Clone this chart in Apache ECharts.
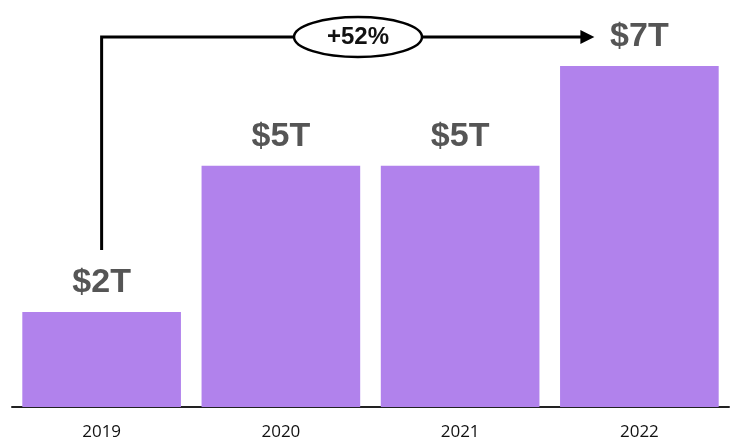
<!DOCTYPE html>
<html>
<head>
<meta charset="utf-8">
<script src="https://cdn.jsdelivr.net/npm/echarts@6/dist/echarts.min.js"></script>
<style>html,body{margin:0;padding:0;background:#fff}#chart{width:740px;height:445px}</style>
</head>
<body>
<div id="chart"></div>
<script>
var years = ['2019', '2020', '2021', '2022'];
var values = [1.95, 4.95, 4.95, 7.0];
var valueLabels = ['$2T', '$5T', '$5T', '$7T'];
var growthLabel = '+52%';

var chart = echarts.init(document.getElementById('chart'));

var option = {
    backgroundColor: '#fff',
    animation: false,
    grid: {left: 12, right: 11, top: 66, bottom: 38},
    xAxis: {
        type: 'category',
        data: years,
        axisTick: {show: false},
        axisLine: {lineStyle: {color: '#222', width: 2}},
        axisLabel: {color: '#111', fontSize: 17, margin: 17, fontFamily: 'Open Sans'}
    },
    yAxis: {type: 'value', min: 0, max: 7, show: false, splitLine: {show: false}},
    series: [{
        type: 'bar',
        data: values,
        barCategoryGap: '11.5%',
        itemStyle: {color: '#b182ec'},
        label: {
            show: true,
            position: 'top',
            distance: 12,
            color: '#555',
            fontSize: 34,
            fontWeight: 'bold',
            fontFamily: 'Liberation Sans',
            formatter: function (p) { return valueLabels[p.dataIndex]; }
        }
    }]
};
chart.setOption(option);

// connector arrow from first to last bar
var p0 = chart.convertToPixel({xAxisIndex: 0, yAxisIndex: 0}, [0, values[0]]);
var p3 = chart.convertToPixel({xAxisIndex: 0, yAxisIndex: 0}, [3, values[3]]);
var lineY = 37;
var startY = p0[1] - 62;
var endX = p3[0] - 45;
var midX = (p0[0] + endX) / 2 + 10;

chart.setOption({
    graphic: [
        {type: 'polyline', shape: {points: [[p0[0], startY], [p0[0], lineY], [endX - 12, lineY]]},
         style: {stroke: '#000', lineWidth: 3, fill: null}},
        {type: 'polygon', shape: {points: [[endX - 14, lineY - 7], [endX, lineY], [endX - 14, lineY + 7]]},
         style: {fill: '#000'}},
        {type: 'ellipse', shape: {cx: midX, cy: lineY, rx: 64, ry: 20},
         style: {fill: '#fff', stroke: '#000', lineWidth: 2.5}},
        {type: 'text', x: midX, y: lineY,
         style: {text: growthLabel, fill: '#111', font: 'bold 24px "Liberation Sans"', align: 'center', verticalAlign: 'middle'}}
    ]
});
</script>
</body>
</html>
